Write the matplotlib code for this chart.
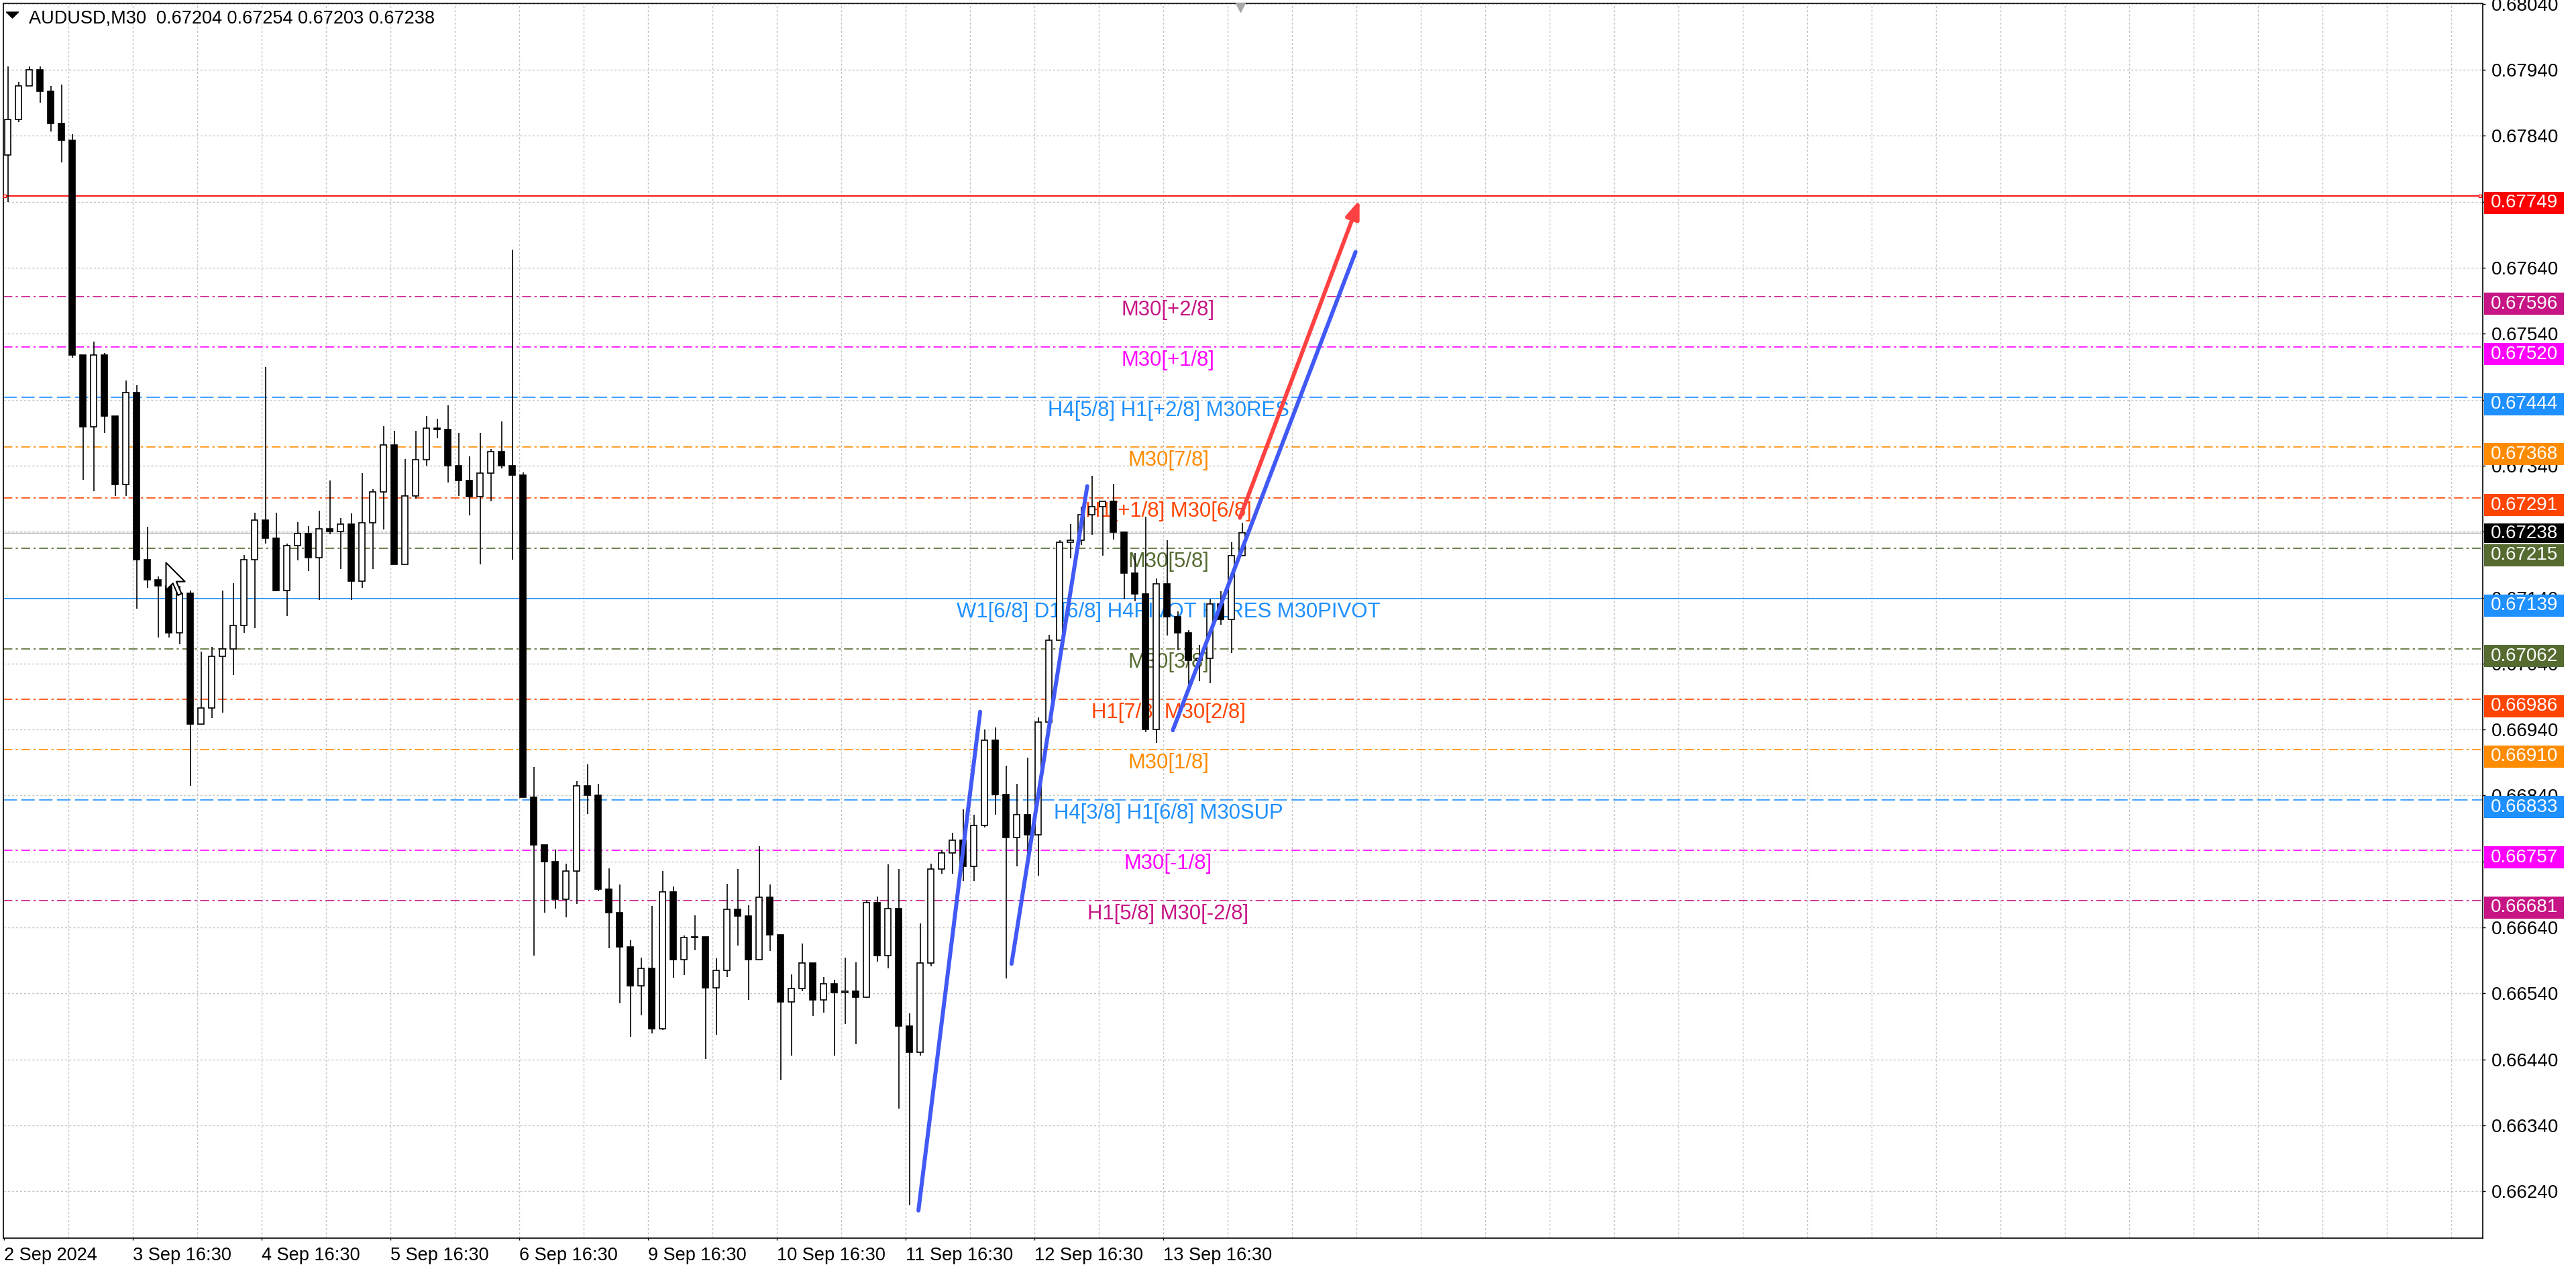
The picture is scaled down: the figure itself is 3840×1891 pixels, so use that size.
import matplotlib
matplotlib.use('Agg')
import matplotlib.pyplot as plt
from matplotlib import transforms
from matplotlib.path import Path
from matplotlib.patches import Rectangle

plt.rcParams['font.family'] = ['Liberation Sans', 'DejaVu Sans']

# ---- price data (AUDUSD M30 in 2-hour groups of 4 bars) ----
symbol = 'AUDUSD,M30'
first_open = 0.67811
highs = [
    0.67945, 0.67922, 0.67945, 0.67945, 0.67916, 0.67918, 0.67843, 0.67508, 0.67528, 0.67511,
    0.67415, 0.67469, 0.67462, 0.67247, 0.67172, 0.67172, 0.67158, 0.67151, 0.67058, 0.67065,
    0.67151, 0.67162, 0.67205, 0.67269, 0.67490, 0.67269, 0.67222, 0.67255, 0.67248, 0.67272,
    0.67318, 0.67261, 0.67268, 0.67329, 0.67304, 0.67400, 0.67393, 0.67350, 0.67393, 0.67415,
    0.67411, 0.67432, 0.67390, 0.67354, 0.67390, 0.67365, 0.67407, 0.67668, 0.67330, 0.66883,
    0.66765, 0.66758, 0.66737, 0.66862, 0.66887, 0.66858, 0.66730, 0.66705, 0.66621, 0.66594,
    0.66673, 0.66726, 0.66702, 0.66628, 0.66658, 0.66626, 0.66593, 0.66706, 0.66729, 0.66674,
    0.66763, 0.66705, 0.66629, 0.66569, 0.66616, 0.66586, 0.66565, 0.66561, 0.66594, 0.66587,
    0.66682, 0.66687, 0.66736, 0.66729, 0.66510, 0.66646, 0.66737, 0.66757, 0.66784, 0.66819,
    0.66811, 0.66940, 0.66943, 0.66885, 0.66858, 0.66897, 0.66959, 0.67084, 0.67227, 0.67251,
    0.67278, 0.67325, 0.67286, 0.67313, 0.67239, 0.67208, 0.67263, 0.67169, 0.67227, 0.67119,
    0.67091, 0.67068, 0.67138, 0.67150, 0.67224, 0.67254]
lows = [
    0.67740, 0.67861, 0.67916, 0.67890, 0.67847, 0.67800, 0.67504, 0.67319, 0.67301, 0.67390,
    0.67294, 0.67294, 0.67123, 0.67155, 0.67080, 0.67080, 0.67069, 0.66855, 0.66948, 0.66958,
    0.66966, 0.67023, 0.67087, 0.67094, 0.67222, 0.67151, 0.67112, 0.67197, 0.67180, 0.67137,
    0.67236, 0.67183, 0.67137, 0.67155, 0.67183, 0.67243, 0.67190, 0.67190, 0.67290, 0.67340,
    0.67382, 0.67315, 0.67294, 0.67265, 0.67190, 0.67286, 0.67336, 0.67198, 0.66837, 0.66597,
    0.66662, 0.66669, 0.66655, 0.66676, 0.66812, 0.66695, 0.66609, 0.66525, 0.66474, 0.66507,
    0.66479, 0.66484, 0.66564, 0.66568, 0.66606, 0.66441, 0.66477, 0.66565, 0.66613, 0.66530,
    0.66591, 0.66604, 0.66409, 0.66446, 0.66543, 0.66506, 0.66511, 0.66446, 0.66494, 0.66463,
    0.66533, 0.66588, 0.66578, 0.66365, 0.66219, 0.66446, 0.66581, 0.66721, 0.66721, 0.66710,
    0.66710, 0.66792, 0.66811, 0.66563, 0.66733, 0.66749, 0.66718, 0.66943, 0.67076, 0.67200,
    0.67220, 0.67235, 0.67204, 0.67228, 0.67138, 0.67134, 0.66936, 0.66920, 0.67083, 0.67060,
    0.66998, 0.67013, 0.67010, 0.67099, 0.67056, 0.67203]
closes = [
    0.67865, 0.67916, 0.67940, 0.67908, 0.67859, 0.67833, 0.67508, 0.67399, 0.67508, 0.67415,
    0.67312, 0.67451, 0.67198, 0.67167, 0.67158, 0.67087, 0.67147, 0.66948, 0.66973, 0.67051,
    0.67062, 0.67098, 0.67198, 0.67258, 0.67230, 0.67151, 0.67219, 0.67237, 0.67201, 0.67244,
    0.67240, 0.67251, 0.67165, 0.67254, 0.67300, 0.67372, 0.67190, 0.67294, 0.67349, 0.67397,
    0.67395, 0.67340, 0.67318, 0.67293, 0.67329, 0.67361, 0.67340, 0.67326, 0.66837, 0.66765,
    0.66740, 0.66683, 0.66726, 0.66855, 0.66841, 0.66698, 0.66662, 0.66611, 0.66552, 0.66578,
    0.66487, 0.66694, 0.66591, 0.66625, 0.66626, 0.66549, 0.66575, 0.66668, 0.66657, 0.66591,
    0.66686, 0.66629, 0.66527, 0.66548, 0.66586, 0.66530, 0.66555, 0.66541, 0.66543, 0.66534,
    0.66678, 0.66597, 0.66669, 0.66491, 0.66451, 0.66586, 0.66729, 0.66753, 0.66772, 0.66733,
    0.66795, 0.66924, 0.66842, 0.66776, 0.66811, 0.66780, 0.66951, 0.67076, 0.67224, 0.67227,
    0.67266, 0.67278, 0.67286, 0.67239, 0.67177, 0.67146, 0.66940, 0.67161, 0.67111, 0.67087,
    0.67045, 0.67048, 0.67130, 0.67107, 0.67204, 0.67238]
opens = [first_open] + closes[:-1]

# ---- Murrey math levels ----
level_prices = [0.67596, 0.67520, 0.67444, 0.67368, 0.67291, 0.67215, 0.67139,
                0.67062, 0.66986, 0.66910, 0.66833, 0.66757, 0.66681]
level_names = ['M30[+2/8]', 'M30[+1/8]', 'H4[5/8] H1[+2/8] M30RES', 'M30[7/8]',
               'H1[+1/8] M30[6/8]', 'M30[5/8]', 'W1[6/8] D1[6/8] H4PIVOT H1RES M30PIVOT',
               'M30[3/8]', 'H1[7/8] M30[2/8]', 'M30[1/8]', 'H4[3/8] H1[6/8] M30SUP',
               'M30[-1/8]', 'H1[5/8] M30[-2/8]']
level_colors = ['#C71585', '#FF00FF', '#1E90FF', '#FF8C00', '#FF4500', '#556B2F', '#1E90FF',
                '#556B2F', '#FF4500', '#FF8C00', '#1E90FF', '#FF00FF', '#C71585']
level_kinds = ['dashdot', 'dashdot', 'dash', 'dashdot', 'dashdot', 'dashdot', 'solid',
               'dashdot', 'dashdot', 'dashdot', 'dash', 'dashdot', 'dashdot']
target_price = 0.67749
bid_price = 0.67238

# ---- hand drawn trend lines (bar index, price) ----
trend_x0 = [340.9, 375.6, 435.7]
trend_p0 = [0.66211, 0.66585, 0.66939]
trend_x1 = [363.9, 403.8, 503.8]
trend_p1 = [0.66967, 0.67309, 0.67664]
arrow_x = [460.7, 505.3]
arrow_p = [0.67261, 0.67743]

# ---- axes ----
date_bars = [0, 48, 96, 144, 192, 240, 288, 336, 384, 432]
date_labels = ['2 Sep 2024', '3 Sep 16:30', '4 Sep 16:30', '5 Sep 16:30', '6 Sep 16:30',
               '9 Sep 16:30', '10 Sep 16:30', '11 Sep 16:30', '12 Sep 16:30', '13 Sep 16:30']
y_ticks = [0.66240, 0.66340, 0.66440, 0.66540, 0.66640, 0.66740, 0.66840, 0.66940, 0.67040,
           0.67140, 0.67240, 0.67340, 0.67440, 0.67540, 0.67640, 0.67740, 0.67840, 0.67940, 0.68040]
# scale labels that the terminal hides under the price boxes
hidden_ticks = [0.66740, 0.67240, 0.67440, 0.67740]

W, H = 3840, 1891
fig = plt.figure(figsize=(W / 100, H / 100), dpi=100)
ax = fig.add_axes([5 / W, 1 - 1845 / H, 3696 / W, 1840 / H])
ax.set_xlim(-0.125, 923.875)
ax.set_ylim(0.661691, 0.680409)
ppx = (0.680409 - 0.661691) / 1840  # price per pixel

grid_kw = dict(color='#C4C4C4', lw=1, ls=(0, (2.2, 2.2)), zorder=0.5)
for v in y_ticks:
    ax.axhline(v, **grid_kw)
for b in range(24, 924, 24):
    ax.axvline(b, **grid_kw)

styles = {'dashdot': (0, (8, 3, 2, 3)), 'dash': (0, (12, 4)), 'solid': '-'}
for p, c, k in zip(level_prices, level_colors, level_kinds):
    ax.axhline(p, color=c, lw=1.2, ls=styles[k], zorder=1)
ax.axhline(target_price, color='red', lw=1.3, zorder=1)
ax.axhline(bid_price, color='#A8A8A8', lw=1, zorder=1)
ax.plot([0.4, 922.8], [target_price] * 2, ls='none', marker='s', ms=3, mfc='white',
        mec='red', mew=1, zorder=6, clip_on=False)

label_bar = 434
for p, name, c in zip(level_prices, level_names, level_colors):
    ax.annotate(name, (label_bar, p), xytext=(0, -28), textcoords='offset pixels',
                ha='center', va='baseline', color=c, fontsize=22.4, zorder=2)

# candles
step = 4
for k, (o, h, l, c) in enumerate(zip(opens, highs, lows, closes)):
    x = step * k + 1.5
    ax.plot([x, x], [l, h], color='black', lw=1.2, zorder=3, solid_capstyle='butt')
    face = 'white' if c >= o else 'black'
    ax.bar(x, abs(c - o), bottom=min(o, c), width=2.1, color=face, edgecolor='black',
           linewidth=1.2, zorder=3.5)

for x0, p0, x1, p1 in zip(trend_x0, trend_p0, trend_x1, trend_p1):
    ax.plot([x0, x1], [p0, p1], color='#4159F5', lw=4.3, solid_capstyle='round', zorder=4)
ax.annotate('', xy=(arrow_x[1], arrow_p[1]), xytext=(arrow_x[0], arrow_p[0]),
            arrowprops=dict(arrowstyle='-|>,head_length=1.6,head_width=0.6', color='#FF4141',
                            lw=4.3, shrinkA=0, shrinkB=0), zorder=5)

# mouse pointer left on the chart
cursor = Path([(0, 0), (0, -16), (4, -12), (7, -19), (9, -18), (6, -11), (11, -11), (0, 0)],
              [Path.MOVETO] + [Path.LINETO] * 6 + [Path.CLOSEPOLY])
ax.plot([60.3], [0.67194], marker=cursor, ms=70, mfc='white', mec='black', mew=1.5, zorder=7)

# shift marker at the top
top_tr = transforms.blended_transform_factory(ax.transData, ax.transAxes)
ax.plot([460.9], [0.997], transform=top_tr, marker='v', ms=10, color='#A8A8A8',
        clip_on=False, zorder=8)

for s in ax.spines.values():
    s.set_color('black')
    s.set_linewidth(1.2)

ax.yaxis.tick_right()
ax.set_yticks(y_ticks)
ax.set_yticklabels(['' if v in hidden_ticks else f'{v:.5f}' for v in y_ticks])
ax.tick_params(axis='y', length=3, width=1, pad=6.3, labelsize=20, direction='out')
ax.set_xticks(date_bars)
ax.set_xticklabels(date_labels, ha='left')
ax.tick_params(axis='x', length=2.5, width=1, pad=6.5, labelsize=19.5, direction='out')

# price boxes on the right scale
box_prices = level_prices + [target_price]
box_colors = level_colors + ['#FF0000']
side = transforms.blended_transform_factory(ax.transAxes, ax.transData)
for p, c in zip(box_prices, box_colors):
    top, bot = p + 6 * ppx, p - 27 * ppx
    ax.add_patch(Rectangle((1.0005, bot), 0.0322, top - bot, transform=side, facecolor=c,
                           edgecolor='none', clip_on=False, zorder=10))
    ax.text(1.0032, (top + bot) / 2, f'{p:.5f}', transform=side, color='white', fontsize=20,
            va='center', ha='left', clip_on=False, zorder=11)
top, bot = bid_price + 14 * ppx, bid_price - 15 * ppx
ax.add_patch(Rectangle((1.0005, bot), 0.0322, top - bot, transform=side, facecolor='black',
                       edgecolor='none', clip_on=False, zorder=10))
ax.text(1.0032, (top + bot) / 2, f'{bid_price:.5f}', transform=side, color='white',
        fontsize=20, va='center', ha='left', clip_on=False, zorder=11)

# title
title = f'{symbol}  {opens[-1]:.5f} {highs[-1]:.5f} {lows[-1]:.5f} {closes[-1]:.5f}'
fig.text(43 / W, 1 - 34.5 / H, title, fontsize=19.5, va='baseline', ha='left')
tri = Path([(-1, 0.5), (1, 0.5), (0, -0.5), (-1, 0.5)],
           [Path.MOVETO, Path.LINETO, Path.LINETO, Path.CLOSEPOLY])
ax.plot([18 / W], [1 - 22 / H], transform=fig.transFigure, marker=tri, ms=13,
        color='black', clip_on=False)

fig.savefig('out.png', dpi=100, facecolor='white')
